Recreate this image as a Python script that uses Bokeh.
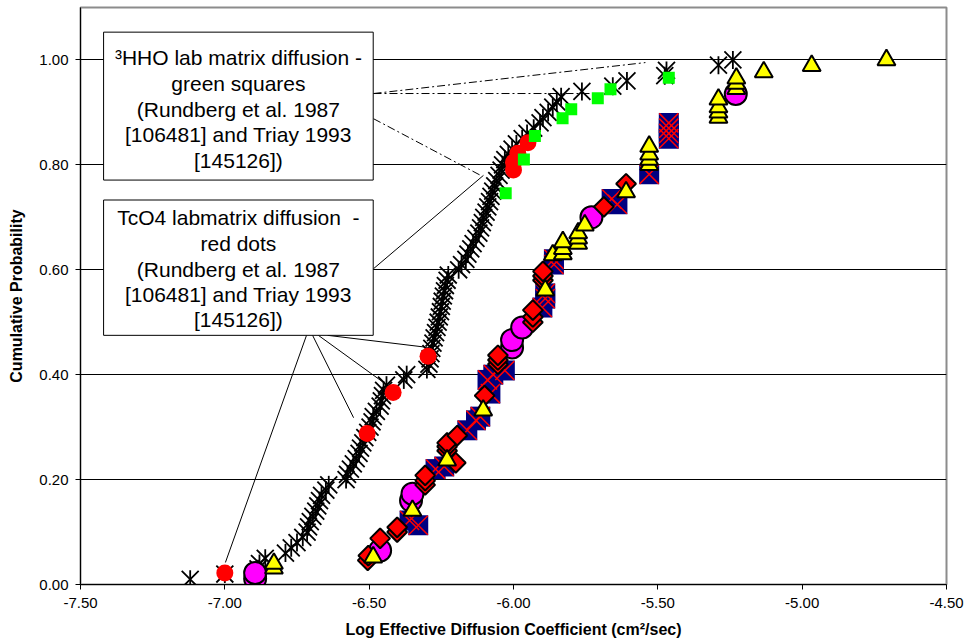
import math
from bokeh.plotting import figure
from bokeh.models import BoxAnnotation, Label, FixedTicker, NumeralTickFormatter, Range1d
from bokeh.embed import file_html
from bokeh.resources import INLINE

# ---------------- data ----------------
x_ticks = [-7.5, -7.0, -6.5, -6.0, -5.5, -5.0, -4.5]
y_ticks = [0.0, 0.2, 0.4, 0.6, 0.8, 1.0]

# black asterisks
ast_x = [-7.12, -7.00, -6.885, -6.88, -6.86, -6.79, -6.77, -6.75, -6.73, -6.715,
         -6.71, -6.704, -6.695, -6.685, -6.678, -6.672, -6.665, -6.65, -6.64, -6.58,
         -6.575, -6.565, -6.555, -6.545, -6.535, -6.53, -6.522, -6.515, -6.505, -6.497,
         -6.49, -6.486, -6.475, -6.462, -6.458, -6.454, -6.45, -6.44, -6.38, -6.37,
         -6.30, -6.293, -6.289, -6.286, -6.283, -6.279, -6.275, -6.27, -6.265, -6.261,
         -6.257, -6.253, -6.25, -6.247, -6.243, -6.239, -6.236, -6.23, -6.226, -6.19,
         -6.18, -6.165, -6.158, -6.148, -6.14, -6.13, -6.12, -6.114, -6.108, -6.103,
         -6.095, -6.089, -6.083, -6.078, -6.072, -6.065, -6.058, -6.05, -6.043, -6.038,
         -6.03, -6.018, -6.005, -5.99, -5.97, -5.953, -5.93, -5.908, -5.898, -5.88,
         -5.864, -5.85, -5.835, -5.763, -5.656, -5.607, -5.476, -5.47, -5.29, -5.24]
ast_p = [0.01, 0.02, 0.03, 0.04, 0.05, 0.06, 0.07, 0.08, 0.09, 0.10,
         0.11, 0.12, 0.13, 0.14, 0.15, 0.16, 0.17, 0.18, 0.19, 0.20,
         0.21, 0.22, 0.23, 0.24, 0.25, 0.26, 0.27, 0.28, 0.29, 0.30,
         0.31, 0.32, 0.33, 0.34, 0.35, 0.36, 0.37, 0.38, 0.39, 0.40,
         0.41, 0.42, 0.43, 0.44, 0.45, 0.46, 0.47, 0.48, 0.49, 0.50,
         0.51, 0.52, 0.53, 0.54, 0.55, 0.56, 0.57, 0.58, 0.59, 0.60,
         0.61, 0.62, 0.63, 0.64, 0.65, 0.66, 0.67, 0.68, 0.69, 0.70,
         0.71, 0.72, 0.73, 0.74, 0.75, 0.76, 0.77, 0.78, 0.79, 0.80,
         0.81, 0.82, 0.83, 0.84, 0.85, 0.86, 0.87, 0.88, 0.89, 0.90,
         0.91, 0.92, 0.93, 0.94, 0.95, 0.96, 0.97, 0.98, 0.99, 1.00]

# TcO4 lab matrix diffusion - red dots
tco4_x = [-7.00, -6.507, -6.417, -6.296, -6.0, -6.0, -5.985, -5.95]
tco4_p = [0.022, 0.288, 0.366, 0.435, 0.79, 0.805, 0.822, 0.842]

# 3HHO lab matrix diffusion - green squares
hho_x = [-6.027, -5.964, -5.926, -5.83, -5.80, -5.708, -5.664, -5.462]
hho_p = [0.746, 0.81, 0.855, 0.889, 0.906, 0.927, 0.944, 0.966]

# navy squares with red x
navy_x = [-6.36, -6.33, -6.27, -6.24, -6.16, -6.13, -6.115, -6.08, -6.09, -6.07,
          -6.03, -5.90, -5.89, -5.89, -5.86, -5.86, -5.66, -5.64, -5.53,
          -5.462, -5.462, -5.462, -5.462]
navy_p = [0.122, 0.113, 0.22, 0.225, 0.294, 0.313, 0.32, 0.364, 0.39, 0.40,
          0.408, 0.528, 0.545, 0.555, 0.61, 0.62, 0.735, 0.725, 0.782,
          0.85, 0.86, 0.87, 0.88]

# magenta circles
mag_x = [-6.895, -6.895, -6.462, -6.355, -6.35, -6.005, -6.005, -5.97, -5.73, -5.23]
mag_p = [0.011, 0.022, 0.065, 0.16, 0.173, 0.452, 0.466, 0.49, 0.70, 0.935]

# red diamonds
dia_x = [-6.505, -6.503, -6.462, -6.403, -6.403, -6.306, -6.306, -6.306, -6.20, -6.23,
         -6.23, -6.23, -6.195, -6.10, -6.054, -6.054, -6.054, -5.933, -5.933, -5.933,
         -5.898, -5.898, -5.898, -5.687, -5.61]
dia_p = [0.046, 0.055, 0.088, 0.10, 0.109, 0.19, 0.198, 0.208, 0.232, 0.255,
         0.263, 0.27, 0.284, 0.36, 0.42, 0.428, 0.437, 0.50, 0.51, 0.523,
         0.58, 0.588, 0.597, 0.72, 0.764]

# yellow triangles
tri_x = [-6.83, -6.83, -6.486, -6.35, -6.23, -6.105, -5.89, -5.864, -5.829, -5.829,
         -5.829, -5.776, -5.776, -5.776, -5.753, -5.61, -5.53, -5.53, -5.53, -5.53,
         -5.29, -5.29, -5.29, -5.29, -5.228, -5.228, -5.228, -5.133, -4.967, -4.708]
tri_p = [0.031, 0.04, 0.052, 0.141, 0.237, 0.332, 0.561, 0.628, 0.63, 0.64,
         0.653, 0.65, 0.66, 0.67, 0.685, 0.748, 0.80, 0.81, 0.82, 0.835,
         0.89, 0.90, 0.91, 0.925, 0.945, 0.955, 0.965, 0.977, 0.989, 1.0]

box1_lines = ["\u00b3HHO lab matrix diffusion -", "green squares",
              "(Rundberg et al. 1987", "[106481] and Triay 1993", "[145126])"]
box2_lines = ["TcO4 labmatrix diffusion\u00a0 -", "red dots",
              "(Rundberg et al. 1987", "[106481] and Triay 1993", "[145126])"]

FONT = "Liberation Sans"

# ---------------- figure ----------------
p = figure(width=966, height=643, x_range=Range1d(-7.5, -4.5), y_range=Range1d(0, 1.1),
           output_backend="svg", toolbar_location=None,
           min_border_left=80, min_border_right=20, min_border_top=7, min_border_bottom=59)
p.background_fill_color = "white"
p.border_fill_color = "white"
p.outline_line_color = "#8c8c8c"
p.outline_line_width = 2

p.xaxis.ticker = FixedTicker(ticks=x_ticks)
p.yaxis.ticker = FixedTicker(ticks=y_ticks)
p.xaxis.formatter = NumeralTickFormatter(format="0.00")
p.yaxis.formatter = NumeralTickFormatter(format="0.00")
p.xgrid.visible = False
p.ygrid.grid_line_color = "black"
p.ygrid.grid_line_width = 1
for ax in (p.xaxis, p.yaxis):
    ax.axis_line_color = "black"
    ax.axis_line_width = 1
    ax.major_tick_line_color = "black"
    ax.major_tick_out = 5
    ax.major_tick_in = 0
    ax.minor_tick_line_color = None
    ax.major_label_text_font = FONT
    ax.major_label_text_font_size = "15px"
    ax.major_label_text_color = "black"
    ax.axis_label_text_font = FONT
    ax.axis_label_text_font_size = "16px"
    ax.axis_label_text_font_style = "bold"
    ax.axis_label_text_color = "black"
p.xaxis.major_label_standoff = 8
p.yaxis.major_label_standoff = 7
p.xaxis.axis_label = "Log Effective Diffusion Coefficient (cm\u00b2/sec)"
p.yaxis.axis_label = "Cumulative Probability"
p.xaxis.axis_label_standoff = 10
p.yaxis.axis_label_standoff = 11

# ---------------- leader lines ----------------
dd = "8 3 2 3"
p.line([-6.485, -5.543], [0.936, 0.995], line_color="black", line_width=1, line_dash=dd)
p.line([-6.485, -5.699], [0.936, 0.936], line_color="black", line_width=1, line_dash=dd)
p.line([-6.485, -6.114], [0.888, 0.780], line_color="black", line_width=1, line_dash=dd)
p.line([-6.485, -6.104], [0.602, 0.780], line_color="black", line_width=1)
p.line([-6.717, -6.998], [0.475, 0.042], line_color="black", line_width=1)
p.line([-6.696, -6.554], [0.475, 0.318], line_color="black", line_width=1)
p.line([-6.676, -6.450], [0.475, 0.385], line_color="black", line_width=1)
p.line([-6.644, -6.298], [0.475, 0.452], line_color="black", line_width=1)

# ---------------- series ----------------
p.scatter(ast_x, ast_p, marker="x", size=24, line_color="black", line_width=1.8)
p.scatter(ast_x, ast_p, marker="dash", angle=math.pi / 2, size=18, line_color="black", line_width=1.8)

p.scatter(tco4_x, tco4_p, marker="circle", size=17, fill_color="#ff0000", line_color=None)
p.scatter(hho_x, hho_p, marker="square", size=12, fill_color="#00ff00", line_color=None)

p.scatter(navy_x, navy_p, marker="square", size=20, fill_color="#000080", line_color=None)
p.scatter(navy_x, navy_p, marker="x", size=27, line_color="#ff0000", line_width=1.5)

p.scatter(mag_x, mag_p, marker="circle", size=22, fill_color="#ff00ff", line_color="black", line_width=2)
p.scatter(dia_x, dia_p, marker="square", angle=math.pi / 4, size=14, fill_color="#ff0000",
          line_color="black", line_width=2)
p.scatter(tri_x, tri_p, marker="triangle", size=18, fill_color="#ffff00", line_color="black", line_width=2)

# ---------------- callout boxes ----------------
p.add_layout(BoxAnnotation(left=-7.42, right=-6.486, top=1.053, bottom=0.771,
                           fill_color="white", fill_alpha=1, line_color="black", line_width=1,
                           line_alpha=1))
p.add_layout(BoxAnnotation(left=-7.42, right=-6.486, top=0.733, bottom=0.475,
                           fill_color="white", fill_alpha=1, line_color="black", line_width=1,
                           line_alpha=1))

box1_y = [1.005, 0.955, 0.906, 0.858, 0.808]
box2_y = [0.700, 0.650, 0.601, 0.553, 0.505]
for txt, yy in zip(box1_lines, box1_y):
    p.add_layout(Label(x=-6.953, y=yy, text=txt, text_align="center", text_baseline="middle",
                       text_font=FONT, text_font_size="21px", text_color="black"))
for txt, yy in zip(box2_lines, box2_y):
    p.add_layout(Label(x=-6.953, y=yy, text=txt, text_align="center", text_baseline="middle",
                       text_font=FONT, text_font_size="21px", text_color="black"))

open("out.html", "w").write(file_html(p, INLINE))
